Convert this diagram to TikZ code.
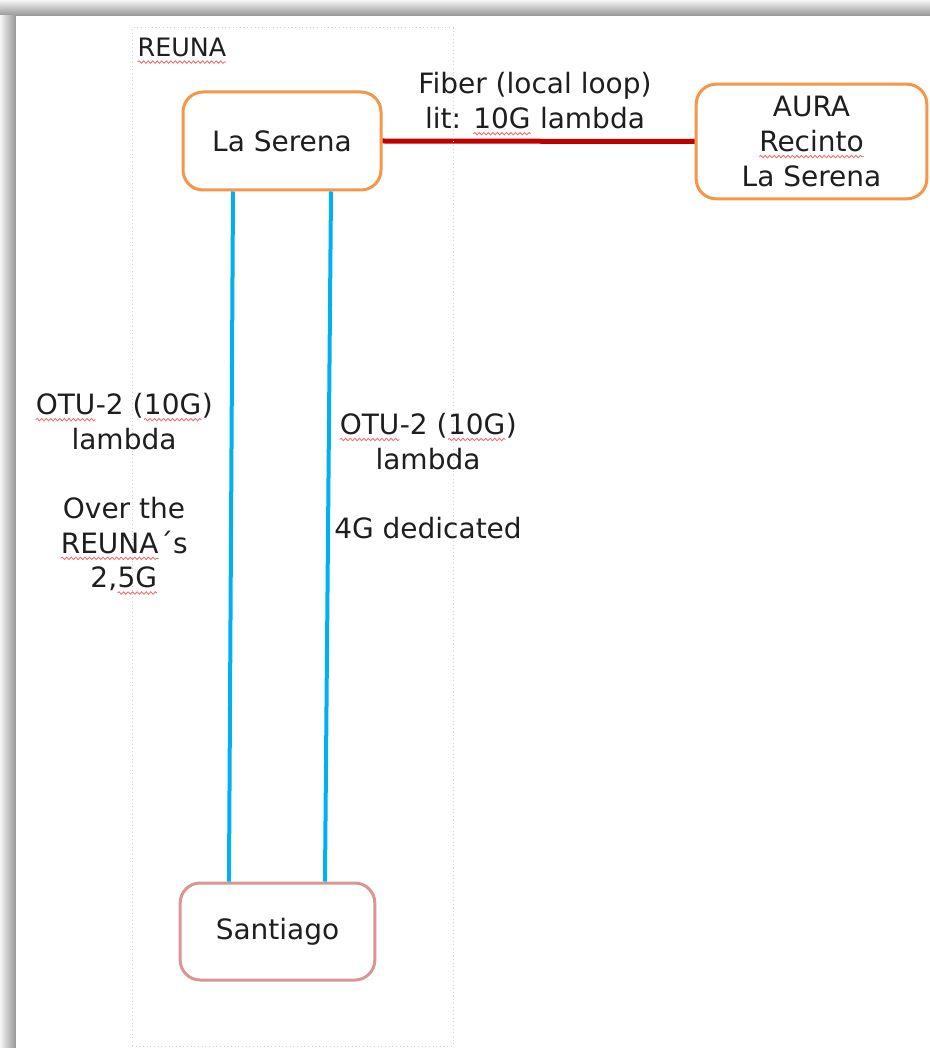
\documentclass[tikz,border=0pt]{standalone}
\usepackage{fontspec}
\setmainfont{DejaVu Sans}
\usetikzlibrary{decorations.pathmorphing}
\definecolor{orng}{HTML}{F79646}
\definecolor{sant}{HTML}{D99694}
\definecolor{redl}{HTML}{C00000}
\definecolor{bluel}{HTML}{00B0F0}
\definecolor{txt}{HTML}{1E1E1E}
\definecolor{grpc}{HTML}{CFCFCF}
\definecolor{spellred}{HTML}{EE6E6E}
\newcommand\spell[1]{\tikz[baseline=(w.base), line width=0.4pt, sharp corners]{\node[shape=rectangle, draw=none, fill=none, minimum width=0pt, minimum height=0pt, inner sep=0pt, outer sep=0pt, text=txt] (w) {#1};
  \draw[spellred, line width=0.65pt, decorate, decoration={snake, amplitude=0.9pt, segment length=3.4pt}] ([yshift=-3.8pt]w.base west) -- ([yshift=-3.8pt]w.base east);}}
\tikzset{
  box/.style={draw, rounded corners=15pt, line width=2.25pt, fill=white, align=center, text=txt},
  lbl/.style={align=center, text=txt, inner sep=0pt},
  redline/.style={draw=redl, line width=3.75pt},
  blueline/.style={draw=bluel, line width=3pt},
  grp/.style={draw=grpc, dotted, line width=0.75pt, inner sep=0pt}
}
\begin{document}
\begin{tikzpicture}[x=0.75pt, y=-0.75pt, font=\fontsize{21}{26}\selectfont]
\useasboundingbox (0,0) rectangle (930,1048);
\fill[white] (0,0) rectangle (930,1048);
% frame shadow
\shade[top color=white!96!black, bottom color=black!42] (0,0) rectangle (930,16);
\shade[left color=white!96!black, right color=black!42] (0,16) rectangle (16,1048);
\fill[white] (16,16) rectangle (930,1048);

% nodes
\node[box, draw=orng, minimum width=148.5pt, minimum height=73.5pt] (ls) at (282,141) {La Serena};
\node[box, draw=orng, minimum width=173pt, minimum height=86pt] (aura) at (811.5,141.5) {AURA\\\spell{Recinto}\\La Serena};
\node[box, draw=sant, minimum width=146pt, minimum height=72.75pt] (sa) at (277.5,931.5) {Santiago};

% connectors
\draw[redline] (ls.east) -- (aura.west);
\draw[blueline] ([xshift=-36.75pt]ls.south) -- ([xshift=-36.4pt]sa.north);
\draw[blueline] ([xshift=36.75pt]ls.south) -- ([xshift=35.6pt]sa.north);

% REUNA group
\node[grp, minimum width=240.75pt, minimum height=763.5pt] (reuna) at (292.5,537) {};
\node[lbl, anchor=base west, font=\fontsize{19}{23}\selectfont] (reunalbl) at (137,57) {\spell{REUNA}};

% labels
\node[lbl] (fib) at (535,104) {Fiber (local loop)\\lit: \spell{10G} lambda};
\node[lbl] (left) at (124,494) {\spell{OTU}-2 (\spell{10G})\\lambda\\[26pt]Over the\\\spell{REUNA}´s\\2,\spell{5G}};
\node[lbl] (right) at (428,476) {\spell{OTU}-2 (\spell{10G})\\lambda\\[26pt]4G dedicated};
\end{tikzpicture}
\end{document}
